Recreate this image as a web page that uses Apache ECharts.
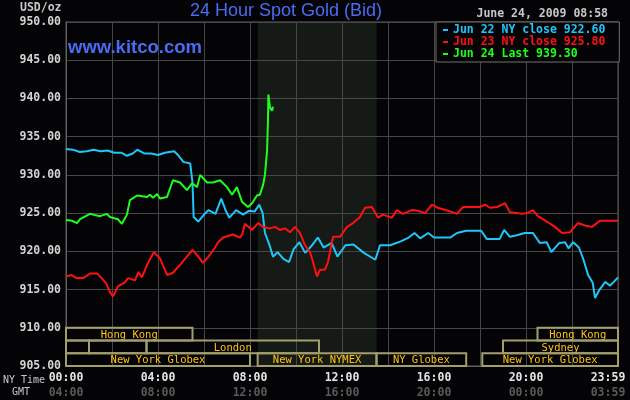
<!DOCTYPE html>
<html>
<head>
<meta charset="utf-8">
<script src="https://cdn.jsdelivr.net/npm/echarts@6/dist/echarts.min.js"></script>
<style>
html,body{margin:0;padding:0;background:#040406;}
#chart{width:630px;height:400px;}
</style>
</head>
<body>
<div id="chart"></div>
<script>
// ---- data ----
const seriesNames = ['Jun 22 NY close 922.60', 'Jun 23 NY close 925.80', 'Jun 24 Last 939.30'];
const nyTimeLabels = ['00:00', '04:00', '08:00', '12:00', '16:00', '20:00', '23:59'];
const gmtLabels = ['04:00', '08:00', '12:00', '16:00', '20:00', '00:00', '03:59'];

// [hour of NY day, price]
const jun22 = [
  [0.00,933.4],[0.30,933.3],[0.60,933.0],[0.90,933.1],[1.20,933.3],[1.50,933.1],[1.80,933.2],
  [2.10,932.9],[2.40,932.9],[2.65,932.5],[2.90,932.8],[3.10,933.3],[3.40,932.8],[3.70,932.8],
  [4.00,932.6],[4.30,932.9],[4.70,933.1],[4.90,932.5],[5.10,931.7],[5.40,931.5],[5.50,929.0],
  [5.55,924.5],[5.75,923.9],[6.00,924.8],[6.20,925.4],[6.50,924.9],[6.75,926.9],[6.95,925.3],
  [7.10,924.4],[7.40,925.4],[7.70,924.8],[7.95,925.3],[8.20,925.2],[8.40,926.1],[8.55,925.0],
  [8.65,922.4],[8.85,920.8],[9.00,919.3],[9.20,919.9],[9.45,919.0],[9.70,918.6],[9.90,920.3],
  [10.15,921.2],[10.40,919.8],[10.70,920.8],[10.95,921.8],[11.20,920.5],[11.55,921.1],[11.80,919.3],
  [12.15,920.8],[12.50,920.9],[12.95,919.8],[13.45,918.9],[13.65,920.8],[14.10,920.8],[14.55,921.3],
  [14.90,921.8],[15.15,922.4],[15.40,921.7],[15.75,922.4],[16.00,921.8],[16.70,921.8],[17.00,922.4],
  [17.40,922.7],[18.05,922.7],[18.30,921.6],[18.85,921.6],[19.05,922.8],[19.30,921.9],[19.60,922.1],
  [19.95,922.4],[20.30,922.4],[20.60,921.1],[20.90,921.2],[21.10,919.9],[21.45,921.1],[21.70,921.2],
  [21.85,920.4],[22.05,921.2],[22.30,920.5],[22.50,918.9],[22.70,916.9],[22.90,915.9],[23.00,913.9],
  [23.20,915.0],[23.45,916.0],[23.65,915.5],[23.85,916.1],[24.00,916.6]
];
const jun23 = [
  [0.00,916.7],[0.25,916.9],[0.45,916.5],[0.75,916.5],[1.05,917.1],[1.35,917.1],[1.55,916.5],
  [1.75,915.8],[1.90,914.7],[2.05,914.1],[2.25,915.4],[2.55,915.9],[2.70,916.5],[3.00,916.2],
  [3.15,917.3],[3.30,916.6],[3.52,918.2],[3.82,919.9],[4.08,919.1],[4.40,916.9],[4.65,917.2],
  [4.95,918.2],[5.50,920.2],[5.75,919.3],[5.95,918.5],[6.17,919.2],[6.48,920.5],[6.61,921.2],
  [6.83,921.8],[7.26,922.2],[7.57,921.8],[7.67,922.3],[7.78,923.6],[8.09,922.8],[8.35,923.7],
  [8.43,923.5],[8.57,923.2],[8.87,923.0],[9.09,923.2],[9.30,922.8],[9.52,923.0],[9.74,922.5],
  [9.96,923.2],[10.17,922.4],[10.39,920.8],[10.61,919.9],[10.74,918.6],[10.91,916.7],[11.04,917.6],
  [11.26,917.6],[11.39,918.6],[11.61,921.9],[11.91,921.9],[12.22,923.2],[12.48,923.7],[12.78,924.5],
  [13.00,925.7],[13.30,925.8],[13.57,924.4],[13.78,924.8],[14.17,924.4],[14.39,925.4],[14.65,924.9],
  [15.04,925.4],[15.30,925.3],[15.61,925.0],[15.91,926.1],[16.17,925.7],[16.61,925.3],[17.00,924.9],
  [17.26,925.8],[18.00,925.8],[18.22,926.1],[18.43,925.7],[18.74,925.8],[19.09,926.3],[19.30,925.1],
  [19.61,925.0],[19.83,924.9],[20.04,925.0],[20.30,925.4],[20.52,924.6],[20.91,923.9],[21.26,923.2],
  [21.57,922.4],[21.91,922.5],[22.26,923.7],[22.65,923.3],[22.87,923.2],[23.22,924.0],[23.65,924.0],
  [24.00,924.0]
];
const jun24 = [
  [0.00,924.1],[0.26,924.0],[0.48,923.7],[0.61,924.2],[1.04,924.9],[1.48,924.6],[1.78,924.9],
  [1.91,924.5],[2.26,924.2],[2.43,923.6],[2.65,924.8],[2.78,926.7],[3.09,927.3],[3.52,927.1],
  [3.65,927.4],[3.78,927.0],[3.96,927.5],[4.09,926.9],[4.39,927.1],[4.65,929.3],[4.96,929.0],
  [5.26,928.0],[5.48,928.9],[5.70,928.4],[5.83,930.0],[6.13,929.0],[6.39,929.0],[6.70,929.3],
  [7.00,928.4],[7.22,927.4],[7.43,928.4],[7.65,926.5],[7.91,925.8],[8.09,926.3],[8.30,927.3],
  [8.43,927.4],[8.57,928.7],[8.65,930.0],[8.74,933.1],[8.78,937.0],[8.80,940.5],[8.87,938.8],
  [8.96,938.4],[9.00,938.9]
];
// trading sessions: [start hour, end hour, row (0 = top), name]
const sessions = [
  [0, 5.5, 0, 'Hong Kong'],
  [20.5, 24, 0, 'Hong Kong'],
  [0, 1, 1, ''],
  [1, 3.5, 1, ''],
  [3.5, 11, 1, 'London'],
  [19, 24, 1, 'Sydney'],
  [0, 8, 2, 'New York Globex'],
  [8.333, 13.5, 2, 'New York NYMEX'],
  [13.5, 17.4, 2, 'NY Globex'],
  [18.1, 24, 2, 'New York Globex']
];
const nymexShade = [[8.333, 13.5]];

// ---- chart ----
const MONO = '"DejaVu Sans Mono", "Liberation Mono", monospace';
const SANS = '"Liberation Sans", Arial, sans-serif';
const colors = ['#1ec6fa', '#ff1010', '#1cff1c'];
const chart = echarts.init(document.getElementById('chart'), null, {renderer: 'canvas'});

const monoText = (c, sz, w) => ({color: c, fontFamily: MONO, fontSize: sz, fontWeight: w || 'bold'});

const option = {
  backgroundColor: '#040406',
  animation: false,
  title: [
    {text: '24 Hour Spot Gold (Bid)', left: 190, top: 1, padding: 0,
     textStyle: {color: '#4a6cf2', fontFamily: SANS, fontSize: 18, fontWeight: 'normal', lineHeight: 20}},
    {text: 'www.kitco.com', left: 68, top: 38, padding: 0,
     textStyle: {color: '#4a6cf2', fontFamily: SANS, fontSize: 18.5, fontWeight: 'bold', lineHeight: 20}},
    {text: 'June 24, 2009 08:58', right: 22, top: 8, padding: 0,
     textStyle: Object.assign(monoText('#c8c8c8', 11.5), {lineHeight: 13})},
    {text: 'USD/oz', left: 20, top: 2, padding: 0,
     textStyle: Object.assign(monoText('#c8c8c8', 11.5), {lineHeight: 13})},
    {text: 'NY Time', left: 3, top: 374, padding: 0,
     textStyle: Object.assign(monoText('#c8c8c8', 10, 'normal'), {lineHeight: 13})},
    {text: 'GMT', left: 12, top: 386, padding: 0,
     textStyle: Object.assign(monoText('#c8c8c8', 10, 'normal'), {lineHeight: 13})}
  ],
  legend: {
    orient: 'vertical',
    left: 436, top: 22,
    padding: [2, 14, 2, 7],
    itemGap: 0,
    itemWidth: 5, itemHeight: 2,
    icon: 'rect',
    backgroundColor: '#040406',
    borderColor: '#707070', borderWidth: 1,
    selectedMode: false,
    textStyle: Object.assign(monoText('#fff', 11.5), {lineHeight: 12}),
    data: seriesNames.map((n, i) => ({name: n, textStyle: {color: colors[i]}}))
  },
  grid: {left: 66, right: 12, top: 22, bottom: 34, show: true, borderColor: '#606060', borderWidth: 1,
         backgroundColor: 'transparent', containLabel: false, outerBoundsMode: 'none'},
  xAxis: {
    type: 'value', min: 0, max: 24, interval: 2, z: 1,
    axisLine: {show: true, lineStyle: {color: '#606060'}},
    axisTick: {show: false},
    splitLine: {show: true, lineStyle: {color: '#464646', width: 1}},
    axisLabel: {
      margin: 5, showMaxLabel: true, showMinLabel: true, hideOverlap: false,
      formatter: function (v) {
        if (v % 4 !== 0) return '';
        const i = v / 4;
        const s = i === 6 ? 'e' : '';
        return '{a' + s + '|' + nyTimeLabels[i] + '}\n{b' + s + '|' + gmtLabels[i] + '}';
      },
      rich: {
        a: Object.assign(monoText('#e4e4e4', 11.5), {lineHeight: 15}),
        b: Object.assign(monoText('#5a5a5a', 11.5), {lineHeight: 15}),
        ae: Object.assign(monoText('#e4e4e4', 11.5), {lineHeight: 15, padding: [0, 20, 0, 0]}),
        be: Object.assign(monoText('#5a5a5a', 11.5), {lineHeight: 15, padding: [0, 20, 0, 0]})
      }
    }
  },
  yAxis: {
    type: 'value', min: 905, max: 950, interval: 5, z: 1,
    axisLine: {show: true, lineStyle: {color: '#606060'}},
    axisTick: {show: false},
    splitLine: {show: true, lineStyle: {color: '#464646', width: 1}},
    axisLabel: Object.assign(monoText('#d4d4d4', 11.5), {margin: 5, formatter: v => v.toFixed(2)})
  },
  series: [
    {
      type: 'custom', name: 'shade', z: 0, silent: true,
      data: nymexShade,
      renderItem: function (params, api) {
        const p1 = api.coord([api.value(0), 950]);
        const p2 = api.coord([api.value(1), 905]);
        return {type: 'rect', shape: {x: p1[0], y: p1[1], width: p2[0] - p1[0], height: p2[1] - p1[1]},
                style: {fill: '#161a16'}};
      }
    },
    {name: seriesNames[0], type: 'line', data: jun22, showSymbol: false, z: 3,
     lineStyle: {color: colors[0], width: 2}, itemStyle: {color: colors[0]}},
    {name: seriesNames[1], type: 'line', data: jun23, showSymbol: false, z: 3,
     lineStyle: {color: colors[1], width: 2}, itemStyle: {color: colors[1]}},
    {name: seriesNames[2], type: 'line', data: jun24, showSymbol: false, z: 4,
     lineStyle: {color: colors[2], width: 2}, itemStyle: {color: colors[2]}},
    {
      type: 'custom', name: 'sessions', z: 5, silent: true,
      data: sessions.map(s => [s[0], s[1], s[2]]),
      renderItem: function (params, api) {
        const row = api.value(2);
        const topV = 910 - row * 5 / 3;
        const botV = topV - 5 / 3;
        const p1 = api.coord([api.value(0), topV]);
        const p2 = api.coord([api.value(1), botV]);
        const label = sessions[params.dataIndex][3];
        return {
          type: 'group',
          children: [
            {type: 'rect', shape: {x: p1[0], y: p1[1], width: p2[0] - p1[0], height: p2[1] - p1[1]},
             style: {fill: 'none', stroke: '#a29e6e', lineWidth: 2}},
            {type: 'text', style: {text: label, x: (p1[0] + p2[0]) / 2, y: (p1[1] + p2[1]) / 2 + 1,
             align: 'center', verticalAlign: 'middle', fill: '#ffc410',
             font: 'normal 10.5px ' + MONO}}
          ]
        };
      }
    }
  ]
};
chart.setOption(option);
</script>
</body>
</html>
